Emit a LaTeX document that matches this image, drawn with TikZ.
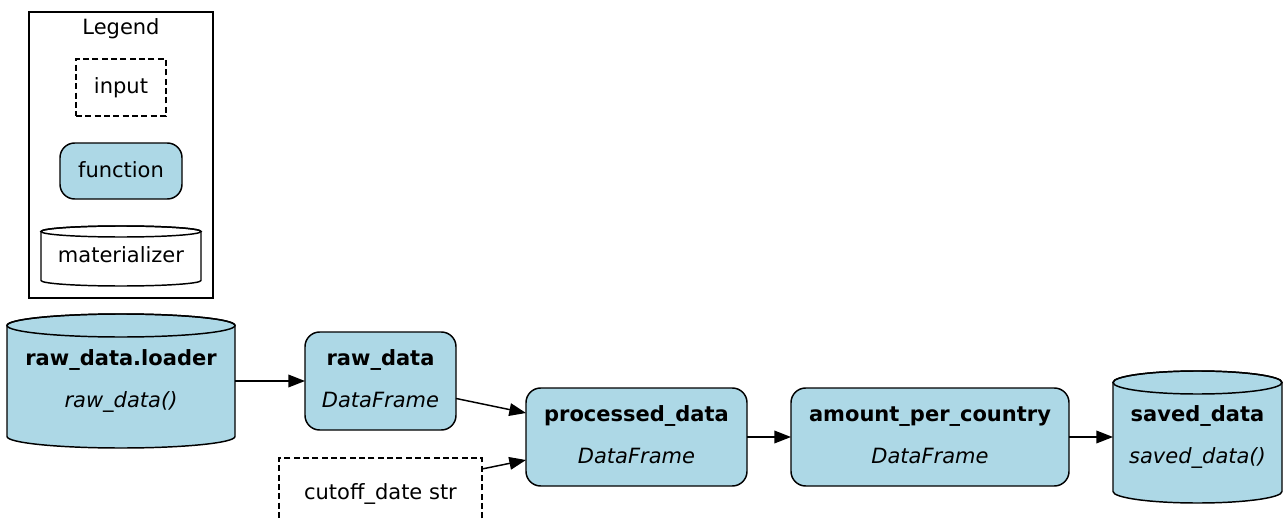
\documentclass[tikz,border=0pt]{standalone}
\usepackage{fontspec}
\setmainfont{DejaVu Sans}
\usetikzlibrary{arrows.meta,fit}
\definecolor{lb}{HTML}{ADD8E6}
\newcommand\cylshape[5]{% x1 x2 Ytop Ybot ry (pixels)
  \pgfmathsetmacro\cylrx{(#2-#1)/2*0.75}%
  \pgfmathsetmacro\cylry{#5*0.75}%
  \pgfmathsetmacro\cylxc{(#1+#2)/2}%
  \path[cylbody] (#1,#3-#5) -- (#1,#4+#5)
     arc[start angle=180,end angle=360,x radius=\cylrx pt,y radius=\cylry pt]
     -- (#2,#3-#5)
     arc[start angle=0,end angle=180,x radius=\cylrx pt,y radius=\cylry pt] -- cycle;
  \draw[line width=1.1pt] (\cylxc,#3-#5) ellipse[x radius=\cylrx pt,y radius=\cylry pt];
}
\begin{document}
\begin{tikzpicture}[x=0.75pt,y=0.75pt,
  every node/.style={font=\fontsize{15.75}{19}\selectfont},
  txt/.style={anchor=base,inner sep=0pt},
  frame/.style={inner sep=0pt,outer sep=0pt,line width=1.1pt},
  funcbox/.style={frame,draw,fill=lb,rounded corners=11pt},
  inbox/.style={frame,draw,dash pattern=on 4.5pt off 2.5pt},
  cylbody/.style={draw,line width=1.1pt},
  arr/.style={line width=1.1pt,-{Triangle[length=12.5pt,width=9.5pt]}}]
\useasboundingbox (0,0) rectangle (1283,519);
\clip (0,0) rectangle (1283,519);
\fill[white] (0,0) rectangle (1283,519);

% Legend
\node[frame,draw,fit={(29,507) (213,221)}] (legend) {};
\node[txt] (legendT) at (121,484) {Legend};
\node[inbox,fit={(76,460) (166,403)}] (lin) {};
\node[txt] (linT) at (121,426) {input};
\node[funcbox,fit={(60,376) (182,320)}] (lfn) {};
\node[txt] (lfnT) at (121,342) {function};
\tikzset{cylbody/.append style={fill=white}}
\cylshape{41}{201}{293}{233}{5.5}
\node[frame,fit={(41,293) (201,233)}] (lmat) {};
\node[txt] (lmatT) at (121,257) {materializer};
\tikzset{cylbody/.append style={fill=lb}}

% raw_data.loader
\cylshape{7}{235}{205}{71}{11.5}
\node[frame,fit={(7,205) (235,71)}] (loader) {};
\node[txt] (loaderA) at (121,154) {\textbf{raw\_data.loader}};
\node[txt] (loaderB) at (121,112) {\textit{raw\_data()}};

% raw_data
\node[funcbox,fit={(305,187) (456,89)}] (rd) {};
\node[txt] (rdA) at (380.5,154) {\textbf{raw\_data}};
\node[txt] (rdB) at (380.5,112) {\textit{DataFrame}};

% cutoff
\node[inbox,fit={(279,61) (482,-11)}] (cut) {};
\node[txt] (cutT) at (380.5,19.7) {cutoff\_date str};

% processed_data
\node[funcbox,fit={(526,131) (747,33)}] (pd) {};
\node[txt] (pdA) at (636.5,97.5) {\textbf{processed\_data}};
\node[txt] (pdB) at (636.5,55.5) {\textit{DataFrame}};

% amount_per_country
\node[funcbox,fit={(791,131) (1069,33)}] (apc) {};
\node[txt] (apcA) at (930,97.5) {\textbf{amount\_per\_country}};
\node[txt] (apcB) at (930,55.5) {\textit{DataFrame}};

% saved_data
\cylshape{1113}{1282}{148}{16}{11.5}
\node[frame,fit={(1113,148) (1282,16)}] (sd) {};
\node[txt] (sdA) at (1197.5,97.5) {\textbf{saved\_data}};
\node[txt] (sdB) at (1197.5,55.5) {\textit{saved\_data()}};

% connectors
\draw[arr] (loader.east) -- (rd.west);
\draw[arr] ([yshift=-13.1pt]rd.east) -- ([yshift=18pt]pd.west);
\draw[arr] ([yshift=-8.25pt]cut.north east) -- ([yshift=-17.25pt]pd.west);
\draw[arr] (pd.east) -- (apc.west);
\draw[arr] (apc.east) -- (sd.west);
\end{tikzpicture}
\end{document}
